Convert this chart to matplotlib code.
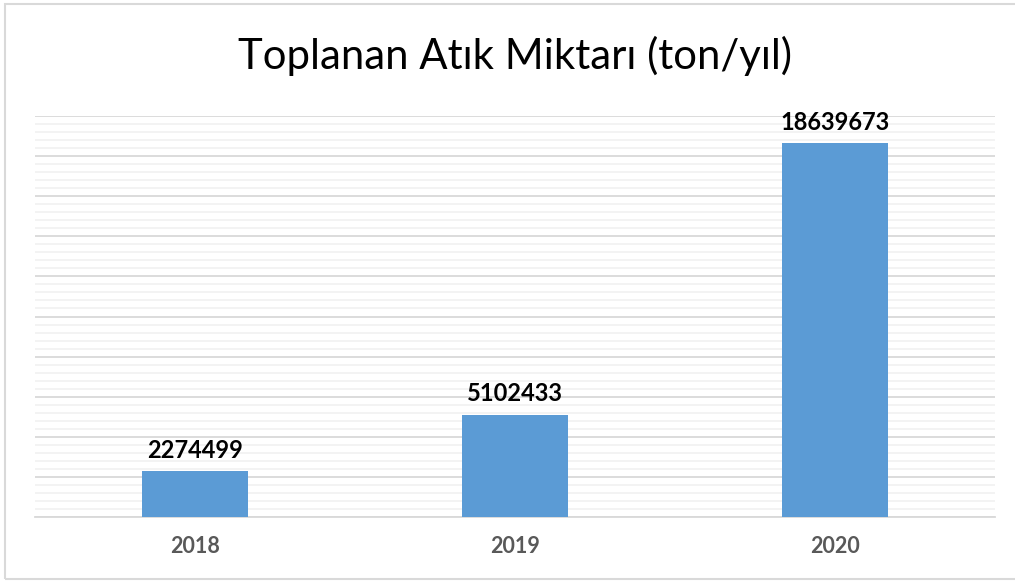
import numpy as np
import matplotlib.pyplot as plt
from matplotlib.patches import Rectangle

# Chart data
years = ['2018', '2019', '2020']
amounts = [2274499, 5102433, 18639673]
title = 'Toplanan Atık Miktarı (ton/yıl)'

plt.rcParams['font.family'] = ['Lato', 'DejaVu Sans']

fig = plt.figure(figsize=(10.15, 5.81), dpi=100)
W, H = 1015, 581

# plot area in pixels: left 35, right 995, top 116, bottom 517
ax = fig.add_axes((35 / W, 1 - 517 / H, 960 / W, 401 / H))

x = np.arange(len(years))
bars = ax.bar(x, amounts, width=0.333, color='#5b9bd5', zorder=3)

ax.set_xlim(-0.5, len(years) - 0.5)
ax.set_ylim(0, 20000000)

# Excel-like major / minor gridlines
ax.set_yticks(np.arange(0, 20000001, 2000000))
ax.set_yticks(np.arange(0, 20000001, 400000), minor=True)
ax.grid(axis='y', which='major', color='#d9d9d9', linewidth=1.3, zorder=0)
ax.grid(axis='y', which='minor', color='#f2f2f2', linewidth=1.3, zorder=0)
ax.tick_params(axis='y', which='both', left=False, labelleft=False)

ax.set_xticks(x)
ax.set_xticklabels(years, fontsize=15.5, fontweight='bold', color='#595959')
ax.tick_params(axis='x', length=0, pad=14)

for s in ['top', 'right', 'left']:
    ax.spines[s].set_visible(False)
ax.spines['bottom'].set_color('#d9d9d9')
ax.spines['bottom'].set_linewidth(1.3)

for xi, v in zip(x, amounts):
    ax.annotate(str(v), (xi, v), xytext=(0, 7), textcoords='offset points',
                ha='center', va='bottom', fontsize=17, fontweight='bold',
                color='black')

fig.text(515 / W, 1 - 56 / H, title, ha='center', va='center', fontsize=30.2,
         color='black')

# outer chart frame
fig.patches.append(Rectangle((5 / W, 1 - 579 / H), 1.0, (579 - 4) / H,
                             transform=fig.transFigure, fill=False,
                             edgecolor='#d9d9d9', linewidth=1.5))

fig.savefig('out.png', dpi=100)
